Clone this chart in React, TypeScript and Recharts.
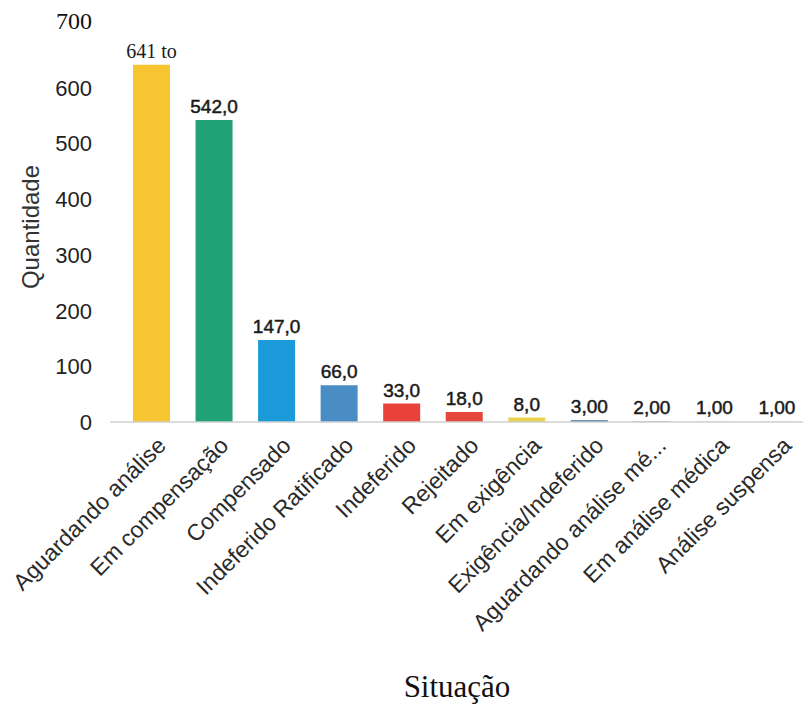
import React from "react"
import { BarChart, Bar, XAxis, YAxis, Cell, LabelList } from "recharts"

const categories = [
  "Aguardando análise",
  "Em compensação",
  "Compensado",
  "Indeferido Ratificado",
  "Indeferido",
  "Rejeitado",
  "Em exigência",
  "Exigência/Indeferido",
  "Aguardando análise mé...",
  "Em análise médica",
  "Análise suspensa",
]
const quantidades = [641, 542, 147, 66, 33, 18, 8, 3, 2, 1, 1]
const valueLabels = ["641 to", "542,0", "147,0", "66,0", "33,0", "18,0", "8,0", "3,00", "2,00", "1,00", "1,00"]
const barColors = [
  "#f6c531", "#20a276", "#1a9ad8", "#4a8cc4", "#e8423b", "#e5473c",
  "#ead34c", "#3f6f9a", "#9fb7c9", "#c9d3dc", "#c9d3dc",
]
const yTicks = [0, 100, 200, 300, 400, 500, 600, 700]

const data = categories.map((name, i) => ({
  name,
  value: quantidades[i],
  label: valueLabels[i],
}))

const SANS = "'Liberation Sans', Arial, sans-serif"
const SERIF = "'Liberation Serif', 'Times New Roman', serif"

function XTick(props: any) {
  const { x, y, payload } = props
  const ax = x + 16
  const ay = y + 17
  return (
    <text
      x={ax}
      y={ay}
      transform={`rotate(-45, ${ax}, ${ay})`}
      textAnchor="end"
      fontFamily={SANS}
      fontSize={23}
      fill="#2a2a2a"
    >
      {payload.value}
    </text>
  )
}

function YTick(props: any) {
  const { x, y, payload } = props
  if (payload.value === 700) {
    return (
      <text x={x} y={y - 3} textAnchor="end" fontFamily={SERIF} fontSize={24} fill="#111">
        {payload.value}
      </text>
    )
  }
  return (
    <text x={x} y={y + 8} textAnchor="end" fontFamily={SANS} fontSize={22} fill="#222">
      {payload.value}
    </text>
  )
}

function ValueLabel(props: any) {
  const { x, y, width, index } = props
  const isFirst = index === 0
  return (
    <text
      x={x + width / 2}
      y={y - 7}
      textAnchor="middle"
      fontFamily={isFirst ? SERIF : SANS}
      fontSize={isFirst ? 20 : 19}
      fill="#1a1a1a"
      stroke={isFirst ? "none" : "#1a1a1a"}
      strokeWidth={0.5}
    >
      {valueLabels[index]}
    </text>
  )
}

export default function App() {
  return (
    <div style={{ position: "absolute", left: 0, top: 0, width: 803, height: 706, overflow: "hidden", background: "#fff" }}>
      <BarChart
        width={808}
        height={706}
        data={data}
        margin={{ top: 32, right: 0, bottom: 0, left: 0 }}
        barCategoryGap={0}
      >
        <XAxis
          dataKey="name"
          interval={0}
          tick={<XTick />}
          tickLine={false}
          axisLine={{ stroke: "#d0d0d0", strokeWidth: 1.5 }}
          padding={{ left: 10, right: 0 }}
          height={284}
          label={{
            value: "Situação",
            position: "insideBottom",
            offset: 9,
            fontFamily: SERIF,
            fontSize: 31,
            fill: "#111",
            dx: -2,
          }}
        />
        <YAxis
          domain={[0, 700]}
          ticks={yTicks}
          width={110}
          tick={<YTick />}
          tickLine={false}
          axisLine={false}
          tickMargin={12}
          label={{
            value: "Quantidade",
            angle: -90,
            position: "insideLeft",
            offset: 30,
            fontFamily: SANS,
            fontSize: 24,
            fill: "#333",
            style: { textAnchor: "middle" },
          }}
        />
        <Bar dataKey="value" barSize={37} isAnimationActive={false}>
          {data.map((d, i) => (
            <Cell key={d.name} fill={barColors[i]} />
          ))}
          <LabelList dataKey="label" content={<ValueLabel />} />
        </Bar>
      </BarChart>
    </div>
  )
}
